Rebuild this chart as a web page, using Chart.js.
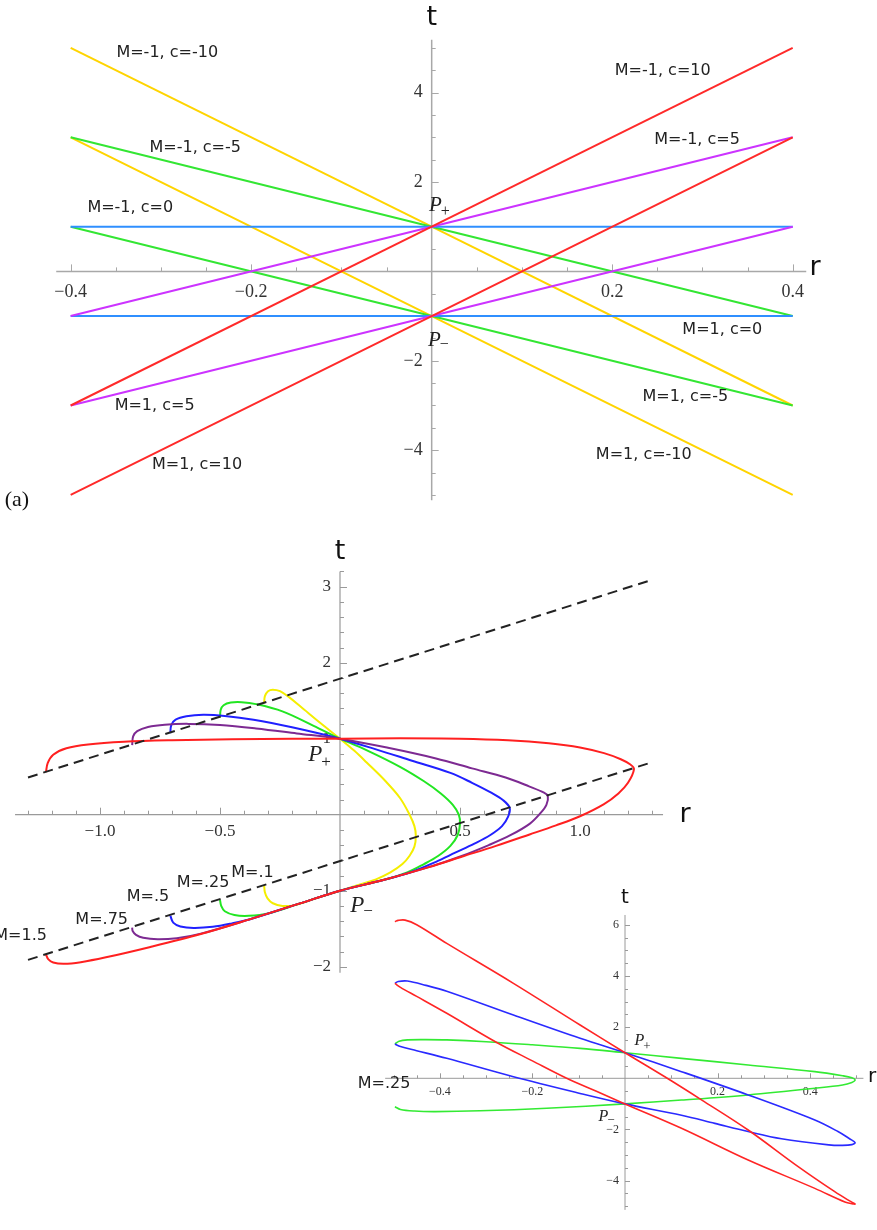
<!DOCTYPE html>
<html>
<head>
<meta charset="utf-8">
<script src="https://cdn.jsdelivr.net/npm/chart.js@4.4.0/dist/chart.umd.min.js"></script>
<style>
  html, body { margin: 0; padding: 0; background: #fff; }
  body { width: 877px; height: 1230px; position: relative; overflow: hidden; }
  canvas { position: absolute; }
  #panelA { left: 0; top: 0; }
  #panelB { left: 0; top: 530px; }
  #panelC { left: 340px; top: 870px; }
</style>
</head>
<body>
<canvas id="panelA" width="877" height="520"></canvas>
<canvas id="panelB" width="877" height="470"></canvas>
<canvas id="panelC" width="537" height="360"></canvas>
<script>
// ---------- panel (a): straight lines, r in [-0.4, 0.4] ----------
const aR = [-0.4, 0, 0.4];
// M=-1 lines, all through P+ (0, 1)
const aMm1c0 = [1, 1, 1];
const aMm1c5 = [-1, 1, 3];
const aMm1c10 = [-3, 1, 5];
const aMm1cm5 = [3, 1, -1];
const aMm1cm10 = [5, 1, -3];
// M=1 lines, all through P- (0, -1)
const aM1c0 = [-1, -1, -1];
const aM1c5 = [-3, -1, 1];
const aM1c10 = [-5, -1, 3];
const aM1cm5 = [1, -1, -3];
const aM1cm10 = [3, -1, -5];
const aTicksR = [-0.4, -0.2, 0.2, 0.4];
const aTicksT = [-4, -2, 2, 4];

const bDashUpper = [[-1.3, 0.49], [1.3, 3.09]];
const bDashLower = [[-1.3, -1.91], [1.3, 0.69]];
const bM01 = [[-0.316,1.464],[-0.313,1.56],[-0.3,1.625],[-0.28,1.645],[-0.25,1.625],[-0.21,1.54],[-0.167,1.43],[-0.083,1.21],[0,1.0],[0.06,0.84],[0.11,0.69],[0.19,0.44],[0.25,0.22],[0.29,0.0],[0.31,-0.15],[0.316,-0.28],[0.31,-0.42],[0.29,-0.54],[0.26,-0.65],[0.21,-0.76],[0.15,-0.85],[0.08,-0.92],[0,-1.0],[-0.1,-1.1],[-0.19,-1.19],[-0.24,-1.2],[-0.28,-1.165],[-0.302,-1.1],[-0.313,-1.02],[-0.316,-0.936]];
const bM025 = [[-0.5,1.28],[-0.497,1.38],[-0.485,1.44],[-0.455,1.475],[-0.41,1.48],[-0.35,1.455],[-0.24,1.36],[-0.11,1.17],[0,1.0],[0.11,0.85],[0.25,0.63],[0.35,0.44],[0.42,0.28],[0.47,0.13],[0.495,0.0],[0.5,-0.12],[0.49,-0.27],[0.46,-0.41],[0.41,-0.54],[0.35,-0.65],[0.28,-0.76],[0.18,-0.86],[0,-1.0],[-0.17,-1.17],[-0.3,-1.3],[-0.38,-1.33],[-0.44,-1.32],[-0.48,-1.27],[-0.495,-1.2],[-0.5,-1.12]];
const bM05 = [[-0.707,1.073],[-0.703,1.18],[-0.685,1.25],[-0.64,1.295],[-0.57,1.315],[-0.48,1.3],[-0.36,1.25],[-0.2,1.15],[0,1.0],[0.15,0.86],[0.3,0.71],[0.46,0.55],[0.55,0.42],[0.63,0.29],[0.68,0.19],[0.707,0.09],[0.7,-0.03],[0.675,-0.15],[0.625,-0.27],[0.56,-0.38],[0.48,-0.5],[0.4,-0.62],[0.3,-0.75],[0.18,-0.86],[0,-1.0],[-0.17,-1.17],[-0.375,-1.375],[-0.45,-1.43],[-0.53,-1.475],[-0.61,-1.49],[-0.665,-1.47],[-0.695,-1.42],[-0.707,-1.327]];
const bM075 = [[-0.866,0.915],[-0.862,1.03],[-0.845,1.1],[-0.8,1.155],[-0.73,1.185],[-0.63,1.195],[-0.5,1.18],[-0.35,1.135],[-0.18,1.07],[0,1.0],[0.2,0.88],[0.4,0.74],[0.55,0.61],[0.69,0.49],[0.79,0.37],[0.85,0.29],[0.866,0.245],[0.86,0.13],[0.835,0.02],[0.79,-0.12],[0.71,-0.27],[0.62,-0.4],[0.51,-0.54],[0.37,-0.69],[0.18,-0.86],[0,-1.0],[-0.17,-1.17],[-0.38,-1.38],[-0.58,-1.565],[-0.68,-1.625],[-0.76,-1.64],[-0.82,-1.62],[-0.85,-1.58],[-0.864,-1.53],[-0.866,-1.486]];
const bM15 = [[-1.225,0.56],[-1.218,0.68],[-1.195,0.79],[-1.14,0.875],[-1.05,0.925],[-0.9,0.96],[-0.7,0.98],[-0.45,0.993],[-0.2,0.998],[0,1.0],[0.25,1.005],[0.5,1.0],[0.7,0.98],[0.87,0.94],[1.0,0.885],[1.1,0.81],[1.17,0.73],[1.21,0.66],[1.225,0.6],[1.2,0.42],[1.16,0.28],[1.1,0.14],[1.0,-0.02],[0.9,-0.14],[0.79,-0.26],[0.65,-0.41],[0.51,-0.55],[0.37,-0.69],[0.18,-0.86],[0,-1.0],[-0.17,-1.17],[-0.38,-1.38],[-0.58,-1.57],[-0.79,-1.74],[-0.98,-1.88],[-1.08,-1.94],[-1.15,-1.962],[-1.195,-1.945],[-1.216,-1.9],[-1.225,-1.84]];
const bTicksR = [-1.0, -0.5, 0.5, 1.0];
const bTicksT = [-2, -1, 1, 2, 3];

// ---------- inset: M=.25 loops ----------
const cGreen = [[-0.497,1.34],[-0.488,1.45],[-0.47,1.5],[-0.43,1.51],[-0.385,1.5],[-0.3,1.43],[-0.2,1.31],[-0.097,1.17],[0,1.0],[0.122,0.78],[0.266,0.52],[0.41,0.26],[0.47,0.1],[0.49,0.02],[0.497,-0.07],[0.49,-0.16],[0.47,-0.26],[0.41,-0.39],[0.266,-0.65],[0.122,-0.85],[0,-1.0],[-0.169,-1.17],[-0.313,-1.27],[-0.41,-1.3],[-0.455,-1.28],[-0.485,-1.22],[-0.497,-1.11]];
const cBlue = [[-0.497,3.71],[-0.49,3.78],[-0.47,3.8],[-0.43,3.63],[-0.385,3.4],[-0.241,2.47],[-0.097,1.56],[0,1.0],[0.122,0.26],[0.266,-0.65],[0.41,-1.63],[0.46,-2.08],[0.485,-2.36],[0.497,-2.51],[0.49,-2.59],[0.47,-2.62],[0.44,-2.6],[0.338,-2.36],[0.266,-2.08],[0.194,-1.76],[0.122,-1.44],[0,-1.0],[-0.097,-0.59],[-0.241,0.06],[-0.385,0.78],[-0.45,1.08],[-0.485,1.24],[-0.497,1.34]];
const cRed = [[-0.497,6.12],[-0.49,6.17],[-0.475,6.18],[-0.45,6.0],[-0.385,5.27],[-0.241,3.71],[-0.097,2.08],[0,1.0],[0.086,0.06],[0.166,-0.85],[0.266,-2.02],[0.374,-3.45],[0.453,-4.43],[0.485,-4.79],[0.497,-4.91],[0.49,-4.9],[0.475,-4.83],[0.41,-4.3],[0.266,-3.19],[0.122,-1.95],[0,-1.0],[-0.063,-0.5],[-0.126,0.0],[-0.2,0.68],[-0.277,1.4],[-0.385,2.54],[-0.45,3.2],[-0.485,3.55],[-0.497,3.71]];
const cTicksR = [-0.4, -0.2, 0.2, 0.4];
const cTicksT = [-4, -2, 2, 4, 6];

const SANS = '"DejaVu Sans"';
const SERIF = '"Liberation Serif"';

function fmtTick(v, d) {
    return (v < 0 ? '\u2212' : '') + Math.abs(v).toFixed(d);
}

// axes through the origin, Mathematica style (ticks point inward)
const mathAxes = {
    id: 'mathAxes',
    beforeDatasetsDraw(chart, args, o) {
        const { ctx, scales: { x, y } } = chart;
        const x0 = x.getPixelForValue(0), y0 = y.getPixelForValue(0);
        ctx.save();
        ctx.strokeStyle = o.color;
        ctx.lineWidth = o.width;
        ctx.beginPath();
        ctx.moveTo(x.getPixelForValue(o.rSpan[0]), y0);
        ctx.lineTo(x.getPixelForValue(o.rSpan[1]), y0);
        ctx.moveTo(x0, y.getPixelForValue(o.tSpan[0]));
        ctx.lineTo(x0, y.getPixelForValue(o.tSpan[1]));
        ctx.stroke();

        ctx.lineWidth = 1;
        ctx.beginPath();
        const isMajor = (v, step) => Math.abs(v / step - Math.round(v / step)) < 1e-6;
        for (let i = Math.ceil(o.rSpan[0] / o.rMinor); i * o.rMinor <= o.rSpan[1] + 1e-9; i++) {
            const v = i * o.rMinor;
            if (i === 0) continue;
            const len = isMajor(v, o.rMajor) ? o.majorLen : o.minorLen;
            const px = Math.round(x.getPixelForValue(v)) + 0.5;
            ctx.moveTo(px, y0);
            ctx.lineTo(px, y0 - len);
        }
        for (let i = Math.ceil(o.tSpan[0] / o.tMinor); i * o.tMinor <= o.tSpan[1] + 1e-9; i++) {
            const v = i * o.tMinor;
            if (i === 0) continue;
            const len = isMajor(v, o.tMajor) ? o.majorLen : o.minorLen;
            const py = Math.round(y.getPixelForValue(v)) + 0.5;
            ctx.moveTo(x0, py);
            ctx.lineTo(x0 + len, py);
        }
        ctx.stroke();

        ctx.fillStyle = o.labelColor;
        ctx.font = o.font;
        ctx.textAlign = 'center';
        ctx.textBaseline = 'middle';
        o.rTicks.forEach(v => ctx.fillText(fmtTick(v, o.rDigits), x.getPixelForValue(v), y0 + o.rGap));
        ctx.textAlign = 'right';
        o.tTicks.forEach(v => ctx.fillText(fmtTick(v, o.tDigits), x0 - o.tGap, y.getPixelForValue(v)));
        ctx.restore();
    }
};

// text placed at data coordinates
const annotate = {
    id: 'annotate',
    afterDatasetsDraw(chart, args, o) {
        const { ctx, scales: { x, y } } = chart;
        ctx.save();
        ctx.textBaseline = 'middle';
        o.items.forEach(it => {
            const px = x.getPixelForValue(it.r), py = y.getPixelForValue(it.t);
            ctx.fillStyle = it.color || '#222';
            if (it.sub) {
                ctx.font = it.font;
                const w = ctx.measureText(it.text).width;
                ctx.font = it.subFont;
                const ws = ctx.measureText(it.sub).width;
                const left = px - (w + ws) / 2;
                ctx.textAlign = 'left';
                ctx.font = it.font;
                ctx.fillText(it.text, left, py);
                ctx.font = it.subFont;
                ctx.fillText(it.sub, left + w - 1, py + it.subDy);
            } else {
                ctx.font = it.font;
                ctx.textAlign = 'center';
                ctx.fillText(it.text, px, py);
            }
        });
        ctx.restore();
    }
};

function curve(points, color, width, tension, dash) {
    return {
        data: points.map(p => ({ x: p[0], y: p[1] })),
        showLine: true,
        borderColor: color,
        borderWidth: width,
        borderDash: dash || [],
        pointRadius: 0,
        tension: tension,
        fill: false
    };
}

function straight(ts, color) {
    return curve(aR.map((r, i) => [r, ts[i]]), color, 2, 0);
}

function makePanel(id, datasets, rRange, tRange, axes, items) {
    return new Chart(document.getElementById(id), {
        type: 'scatter',
        data: { datasets: datasets },
        options: {
            responsive: false,
            animation: false,
            devicePixelRatio: 1,
            layout: { padding: 0 },
            scales: {
                x: { type: 'linear', min: rRange[0], max: rRange[1], display: false },
                y: { type: 'linear', min: tRange[0], max: tRange[1], display: false }
            },
            plugins: {
                legend: { display: false },
                tooltip: { enabled: false },
                mathAxes: axes,
                annotate: { items: items }
            }
        },
        plugins: [mathAxes, annotate]
    });
}

// ---- panel (a) ----
const RED_A = '#ff2a2a', MAG_A = '#cc33ff', BLUE_A = '#2f8fff', GREEN_A = '#33e633', YEL_A = '#ffd400';
makePanel('panelA', [
    straight(aMm1c10, RED_A), straight(aM1c10, RED_A),
    straight(aMm1c5, MAG_A), straight(aM1c5, MAG_A),
    straight(aMm1c0, BLUE_A), straight(aM1c0, BLUE_A),
    straight(aMm1cm5, GREEN_A), straight(aM1cm5, GREEN_A),
    straight(aMm1cm10, YEL_A), straight(aM1cm10, YEL_A)
], [-0.4783, 0.4934], [-5.562, 6.072], {
    rSpan: [-0.416, 0.415], tSpan: [-5.12, 5.18],
    rMajor: 0.2, rMinor: 0.05, tMajor: 2, tMinor: 0.5,
    rTicks: aTicksR, tTicks: aTicksT, rDigits: 1, tDigits: 0,
    rGap: 21, tGap: 9, majorLen: 7, minorLen: 4,
    color: '#a8a8a8', width: 1.5, labelColor: '#333', font: '18px ' + SERIF
}, [
    { text: 't', r: 0.0, t: 5.68, font: '27px ' + SANS, color: '#111' },
    { text: 'r', r: 0.4247, t: 0.08, font: '27px ' + SANS, color: '#111' },
    { text: 'M=-1, c=-10', r: -0.293, t: 4.89, font: '16px ' + SANS },
    { text: 'M=-1, c=-5', r: -0.262, t: 2.76, font: '16px ' + SANS },
    { text: 'M=-1, c=0', r: -0.334, t: 1.42, font: '16px ' + SANS },
    { text: 'M=-1, c=10', r: 0.256, t: 4.48, font: '16px ' + SANS },
    { text: 'M=-1, c=5', r: 0.294, t: 2.94, font: '16px ' + SANS },
    { text: 'M=1, c=0', r: 0.322, t: -1.31, font: '16px ' + SANS },
    { text: 'M=1, c=-5', r: 0.281, t: -2.81, font: '16px ' + SANS },
    { text: 'M=1, c=-10', r: 0.235, t: -4.11, font: '16px ' + SANS },
    { text: 'M=1, c=5', r: -0.307, t: -3.01, font: '16px ' + SANS },
    { text: 'M=1, c=10', r: -0.26, t: -4.33, font: '16px ' + SANS },
    { text: 'P', sub: '+', r: 0.009, t: 1.48, font: 'italic 21px ' + SERIF, subFont: '16px ' + SERIF, subDy: 7 },
    { text: 'P', sub: '\u2212', r: 0.008, t: -1.54, font: 'italic 21px ' + SERIF, subFont: '16px ' + SERIF, subDy: 5 },
    { text: '(a)', r: -0.4595, t: -5.114, font: '22px ' + SERIF, color: '#111' }
]);

// ---- panel (b) ----
makePanel('panelB', [
    curve(bDashUpper, '#222', 2, 0, [10, 6]),
    curve(bDashLower, '#222', 2, 0, [10, 6]),
    curve(bM15, '#ff2020', 2, 0.35),
    curve(bM075, '#7d2a92', 2, 0.35),
    curve(bM05, '#2020ff', 2, 0.35),
    curve(bM025, '#22e622', 2, 0.35),
    curve(bM01, '#f4ee00', 2, 0.35)
], [-1.4167, 2.2375], [-2.438, 3.746], {
    rSpan: [-1.354, 1.346], tSpan: [-2.08, 3.2],
    rMajor: 0.5, rMinor: 0.1, tMajor: 1, tMinor: 0.2,
    rTicks: bTicksR, tTicks: bTicksT, rDigits: 1, tDigits: 0,
    rGap: 17, tGap: 9, majorLen: 7, minorLen: 4,
    color: '#9a9a9a', width: 1.2, labelColor: '#333', font: '17px ' + SERIF
}, [
    { text: 't', r: 0.0, t: 3.457, font: '27px ' + SANS, color: '#111' },
    { text: 'r', r: 1.4375, t: 0.0, font: '27px ' + SANS, color: '#111' },
    { text: 'M=.1', r: -0.3646, t: -0.766, font: '16px ' + SANS },
    { text: 'M=.25', r: -0.5708, t: -0.898, font: '16px ' + SANS },
    { text: 'M=.5', r: -0.8, t: -1.075, font: '16px ' + SANS },
    { text: 'M=.75', r: -0.993, t: -1.378, font: '16px ' + SANS },
    { text: 'M=1.5', r: -1.331, t: -1.596, font: '16px ' + SANS },
    { text: 'P', sub: '+', r: -0.083, t: 0.78, font: 'italic 23px ' + SERIF, subFont: '17px ' + SERIF, subDy: 7 },
    { text: 'P', sub: '\u2212', r: 0.092, t: -1.2, font: 'italic 23px ' + SERIF, subFont: '17px ' + SERIF, subDy: 6 }
]);

// ---- inset ----
makePanel('panelC', [
    curve(cRed, '#ff2525', 1.6, 0.35),
    curve(cBlue, '#2a2aff', 1.6, 0.35),
    curve(cGreen, '#33ea33', 1.6, 0.35)
], [-0.6156, 0.5443], [-5.926, 8.137], {
    rSpan: [-0.518, 0.515], tSpan: [-5.14, 6.38],
    rMajor: 0.2, rMinor: 0.05, tMajor: 2, tMinor: 0.5,
    rTicks: cTicksR, tTicks: cTicksT, rDigits: 1, tDigits: 0,
    rGap: 14, tGap: 6, majorLen: 5, minorLen: 3,
    color: '#9a9a9a', width: 1, labelColor: '#333', font: '12px ' + SERIF
}, [
    { text: 't', r: 0.0, t: 7.04, font: '20px ' + SANS, color: '#111' },
    { text: 'r', r: 0.5335, t: 0.05, font: '20px ' + SANS, color: '#111' },
    { text: 'M=.25', r: -0.5205, t: -0.22, font: '16px ' + SANS },
    { text: 'P', sub: '+', r: 0.039, t: 1.45, font: 'italic 16px ' + SERIF, subFont: '13px ' + SERIF, subDy: 5 },
    { text: 'P', sub: '\u2212', r: -0.039, t: -1.51, font: 'italic 16px ' + SERIF, subFont: '13px ' + SERIF, subDy: 4 }
]);
</script>
</body>
</html>
